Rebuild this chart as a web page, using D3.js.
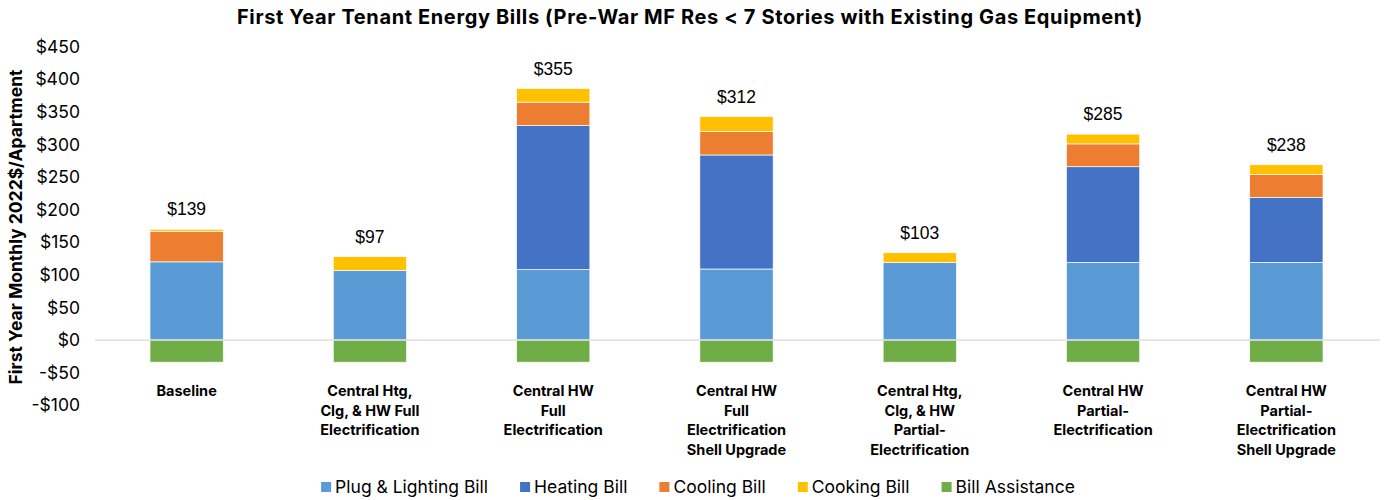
<!DOCTYPE html>
<html><head><meta charset="utf-8">
<script src="https://cdn.jsdelivr.net/npm/d3@7"></script>
<style>body{margin:0;background:#fff;} svg{display:block;}</style>
</head><body>
<svg id="chart" width="1385" height="500"></svg>
<script>
const categories = [
  ["Baseline"],
  ["Central Htg,", "Clg, & HW Full", "Electrification"],
  ["Central HW", "Full", "Electrification"],
  ["Central HW", "Full", "Electrification", "Shell Upgrade"],
  ["Central Htg,", "Clg, & HW", "Partial-", "Electrification"],
  ["Central HW", "Partial-", "Electrification"],
  ["Central HW", "Partial-", "Electrification", "Shell Upgrade"]
];
const plugLighting = [120, 107, 108, 109, 119, 119, 119];
const heating      = [0, 0, 221, 175, 0, 147, 100];
const cooling      = [47, 0, 36, 36, 0, 35, 35];
const cooking      = [3, 21, 21, 23, 15, 15, 15];
const assistance   = [-34, -34, -34, -34, -34, -34, -34];
const totalLabels  = ["$139", "$97", "$355", "$312", "$103", "$285", "$238"];
const yTicks = [-100, -50, 0, 50, 100, 150, 200, 250, 300, 350, 400, 450];
const seriesNames = ["Plug & Lighting Bill", "Heating Bill", "Cooling Bill", "Cooking Bill", "Bill Assistance"];
const seriesColors = ["#5B9BD5", "#4472C4", "#ED7D31", "#FFC000", "#70AD47"];
const title = "First Year Tenant Energy Bills (Pre-War MF Res < 7 Stories with Existing Gas Equipment)";
const yTitle = "First Year Monthly 2022$/Apartment";

const svg = d3.select("#chart");
const idx = d3.range(categories.length);
const x = d3.scaleBand().domain(idx).range([95, 1378]).paddingInner(0.6).paddingOuter(0.3);
const y = d3.scaleLinear().domain([-100, 450]).range([405.2, 46.8]);

// Title
svg.append("text").attr("x", 690).attr("y", 24).attr("text-anchor", "middle")
  .style("font-family", "Inter, sans-serif").style("font-weight", "bold")
  .style("font-size", "20px").style("letter-spacing", "0.62px").attr("fill", "#000").text(title);

// Y axis
const yAxis = d3.axisLeft(y).tickValues(yTicks).tickSize(0).tickPadding(0)
  .tickFormat(d => (d < 0 ? "-$" : "$") + Math.abs(d));
const ga = svg.append("g").attr("transform", "translate(80,0)").call(yAxis);
ga.select(".domain").remove();
ga.selectAll("text").style("font-family", "Inter, sans-serif")
  .style("font-size", "17.5px").attr("fill", "#000");

// Y title
svg.append("text").attr("transform", "translate(22,227) rotate(-90)").attr("text-anchor", "middle")
  .style("font-family", "Inter, sans-serif").style("font-weight", "bold")
  .style("font-size", "17.5px").attr("fill", "#000").text(yTitle);

// Stacks
const positive = [plugLighting, heating, cooling, cooking];
idx.forEach(i => {
  let base = 0;
  positive.forEach((arr, s) => {
    const v = arr[i];
    if (v > 0) {
      svg.append("rect").attr("x", x(i)).attr("width", x.bandwidth())
        .attr("y", y(base + v)).attr("height", y(base) - y(base + v))
        .attr("fill", seriesColors[s]).attr("stroke", "#fff").attr("stroke-width", 0.7);
    }
    base += v;
  });
  svg.append("rect").attr("x", x(i)).attr("width", x.bandwidth())
    .attr("y", y(0)).attr("height", y(assistance[i]) - y(0))
    .attr("fill", seriesColors[4]).attr("stroke", "#fff").attr("stroke-width", 0.7);
  svg.append("text").attr("x", x(i) + x.bandwidth() / 2).attr("y", y(base) - 14)
    .attr("text-anchor", "middle").style("font-family", "Liberation Sans, Arial, sans-serif")
    .style("font-size", "17.5px").attr("fill", "#000").text(totalLabels[i]);
});

// Zero line
svg.append("line").attr("x1", 95).attr("x2", 1380).attr("y1", y(0)).attr("y2", y(0))
  .attr("stroke", "#d9d9d9").attr("stroke-width", 1.3);

// Category labels
idx.forEach(i => {
  const t = svg.append("text").attr("x", x(i) + x.bandwidth() / 2).attr("y", 396)
    .attr("text-anchor", "middle").style("font-family", "Inter, sans-serif")
    .style("font-weight", "bold").style("font-size", "14.5px").attr("fill", "#000");
  categories[i].forEach((line, k) => {
    t.append("tspan").attr("x", x(i) + x.bandwidth() / 2).attr("dy", k === 0 ? 0 : 19.5).text(line);
  });
});

// Legend
const lg = svg.append("g");
let lx = 0;
seriesNames.forEach((n, s) => {
  const g = lg.append("g").attr("transform", `translate(${lx},0)`);
  g.append("rect").attr("x", 0).attr("y", -11).attr("width", 10).attr("height", 10).attr("fill", seriesColors[s]);
  const t = g.append("text").attr("x", 14).attr("y", 0)
    .style("font-family", "Inter, sans-serif").style("font-size", "17.5px").attr("fill", "#000").text(n);
  lx += 14 + t.node().getComputedTextLength() + 32;
});
const lw = lx - 32;
lg.attr("transform", `translate(${698 - lw / 2},493)`);
</script>
</body></html>
